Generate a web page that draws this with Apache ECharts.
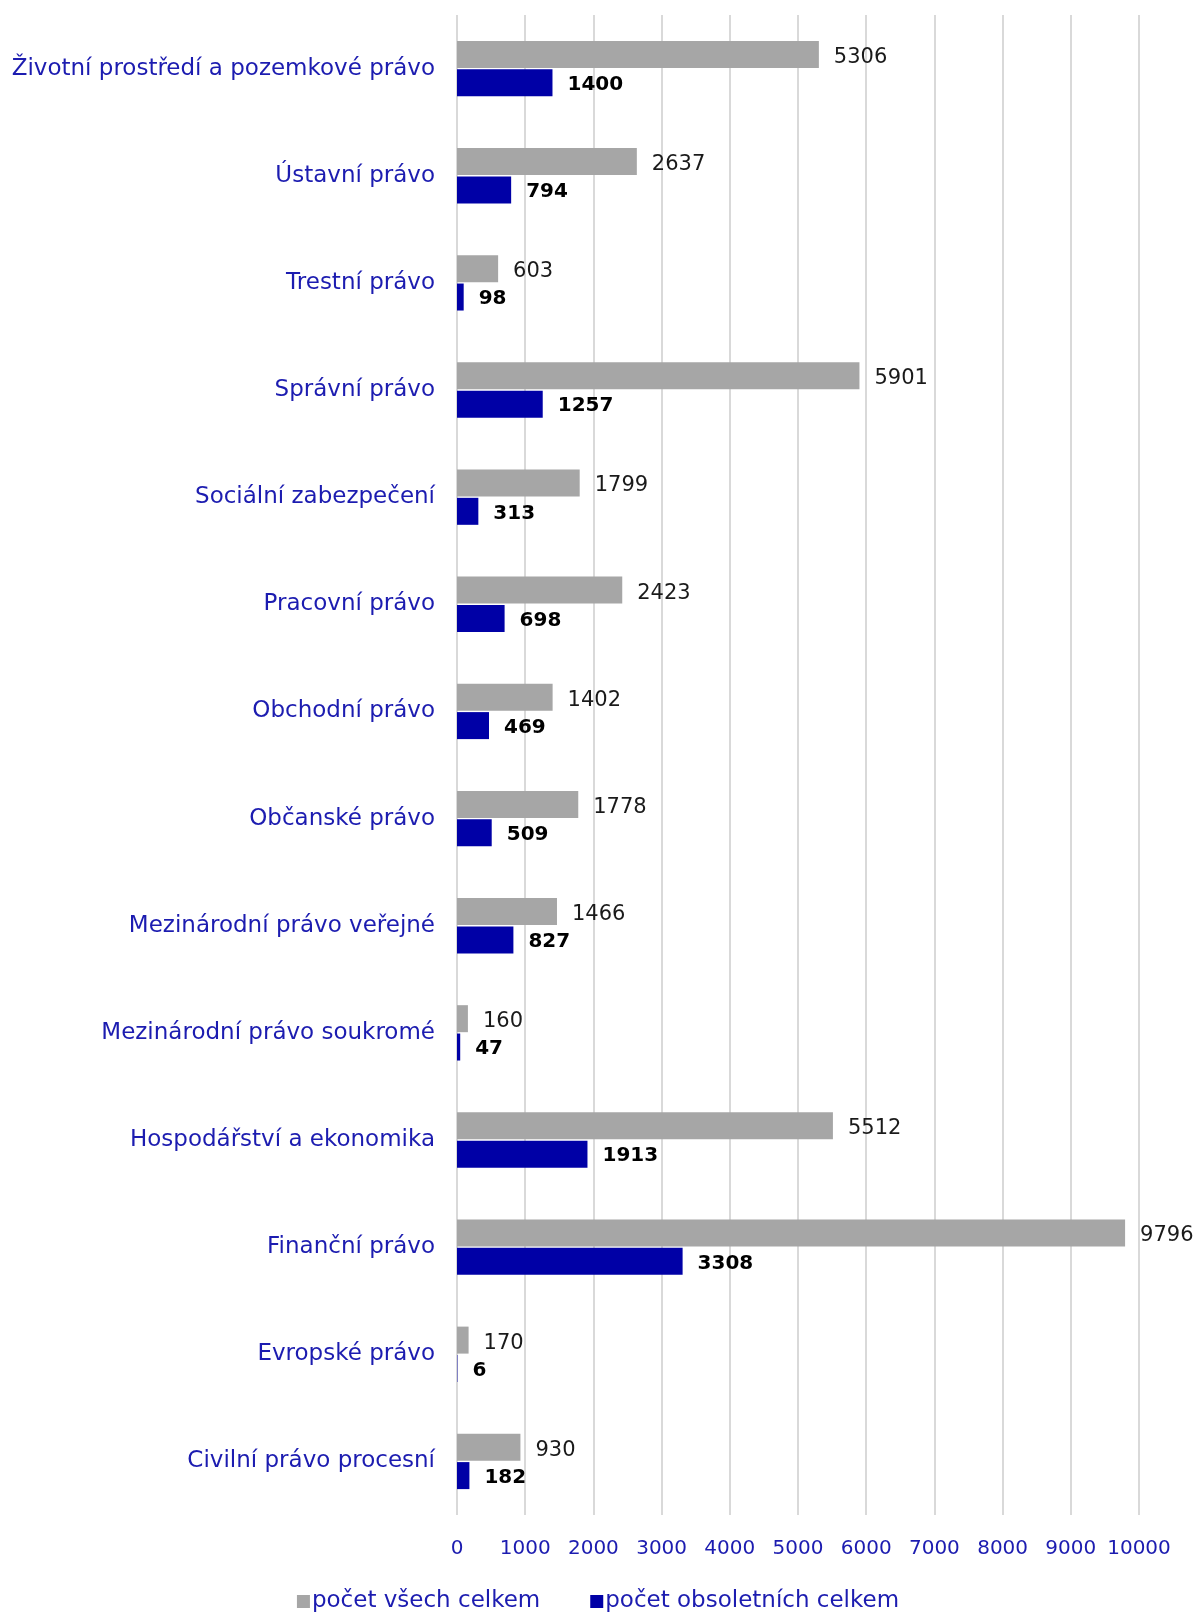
<!DOCTYPE html>
<html>
<head>
<meta charset="utf-8">
<script src="https://cdn.jsdelivr.net/npm/echarts@6/dist/echarts.min.js"></script>
<style>
html,body{margin:0;padding:0;background:#fff;}
#chart{width:1196px;height:1614px;}
</style>
</head>
<body>
<div id="chart"></div>
<script>
const categories = [
  "Životní prostředí a pozemkové právo",
  "Ústavní právo",
  "Trestní právo",
  "Správní právo",
  "Sociální zabezpečení",
  "Pracovní právo",
  "Obchodní právo",
  "Občanské právo",
  "Mezinárodní právo veřejné",
  "Mezinárodní právo soukromé",
  "Hospodářství a ekonomika",
  "Finanční právo",
  "Evropské právo",
  "Civilní právo procesní"
];
const totalAll = [5306, 2637, 603, 5901, 1799, 2423, 1402, 1778, 1466, 160, 5512, 9796, 170, 930];
const totalObsolete = [1400, 794, 98, 1257, 313, 698, 469, 509, 827, 47, 1913, 3308, 6, 182];
const seriesNames = ["počet všech celkem", "počet obsoletních celkem"];

const FONT = "DejaVu Sans";
const BLUE_TEXT = "#1c1cb0";
const chart = echarts.init(document.getElementById('chart'));
chart.setOption({
  animation: false,
  backgroundColor: '#ffffff',
  textStyle: { fontFamily: FONT },
  grid: { left: 457, right: 57, top: 15, bottom: 99, containLabel: false },
  legend: {
    bottom: -4,
    left: 'center',
    itemWidth: 13,
    itemHeight: 13,
    itemGap: 50,
    icon: 'rect',
    textStyle: { color: BLUE_TEXT, fontSize: 23, fontFamily: FONT, padding: [0, 0, 0, -3] },
    data: seriesNames
  },
  xAxis: {
    type: 'value',
    min: 0,
    max: 10000,
    interval: 1000,
    axisLine: { show: false },
    axisTick: { show: false },
    splitLine: { lineStyle: { color: '#d9d9d9', width: 2 } },
    axisLabel: { color: BLUE_TEXT, fontSize: 20, fontFamily: FONT, margin: 24, formatter: v => String(v) }
  },
  yAxis: {
    type: 'category',
    inverse: true,
    data: categories,
    axisLine: { show: false },
    axisTick: { show: false },
    axisLabel: { color: BLUE_TEXT, fontSize: 23, fontFamily: FONT, margin: 22, padding: [5, 0, 0, 0] }
  },
  series: [
    {
      name: seriesNames[0],
      type: 'bar',
      data: totalAll,
      barWidth: 27,
      barGap: '5%',
      itemStyle: { color: '#a6a6a6' },
      label: { show: true, position: 'right', distance: 15, offset: [0, 3], color: '#1a1a1a', fontSize: 21, fontFamily: FONT }
    },
    {
      name: seriesNames[1],
      type: 'bar',
      data: totalObsolete,
      barWidth: 27,
      barGap: '5%',
      itemStyle: { color: '#0000a6' },
      label: { show: true, position: 'right', distance: 15, offset: [0, 2], color: '#000000', fontSize: 20, fontWeight: 'bold', fontFamily: FONT }
    }
  ]
});
</script>
</body>
</html>
